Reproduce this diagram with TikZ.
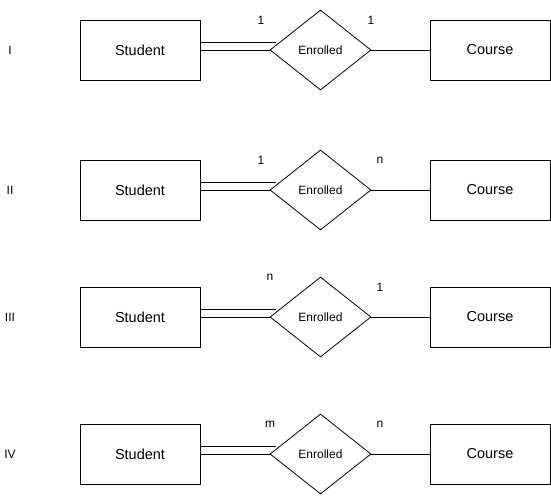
\documentclass[tikz,border=0pt]{standalone}
\usepackage{fontspec}
\setmainfont{Liberation Sans}
\usetikzlibrary{shapes.geometric,calc}
\begin{document}
\begin{tikzpicture}[x=1pt,y=-1pt,
  entity/.style={draw,line width=0.8pt,minimum width=120pt,minimum height=60pt,inner sep=0pt,font=\fontsize{14.5}{16}\selectfont},
  rel/.style={draw,line width=0.8pt,diamond,minimum width=101pt,minimum height=80pt,inner sep=0pt,aspect=1.26,font=\fontsize{12}{14}\selectfont},
  card/.style={font=\fontsize{12}{14}\selectfont,inner sep=0pt},
  rowlbl/.style={font=\fontsize{12}{14}\selectfont,inner sep=0pt},
  conn/.style={line width=0.8pt}]
\useasboundingbox (0,0) rectangle (551,495);
\foreach \r/\y/\lbl/\la/\lax/\lay/\lb/\lbx/\lby in {1/50/I/1/261/20/1/371/20, 2/190/II/1/261/160/n/380/160, 3/317/III/n/270/277/1/380/287, 4/454/IV/m/270/424/n/380/424}{
  \node[rowlbl] (r\r) at (10,\y) {\lbl};
  \node[entity] (s\r) at (140,\y) {Student};
  \node[rel] (e\r) at (320.5,\y) {Enrolled};
  \node[entity] (c\r) at (490,\y) {Course};
  \draw[conn] ($(s\r.east)+(0,-8)$) -- ($(e\r.west)+(6,-8)$);
  \draw[conn] (s\r.east) -- (e\r.west);
  \draw[conn] (e\r.east) -- (c\r.west);
  \node[card] (a\r) at (\lax,\lay) {\la};
  \node[card] (b\r) at (\lbx,\lby) {\lb};
}
\end{tikzpicture}
\end{document}
